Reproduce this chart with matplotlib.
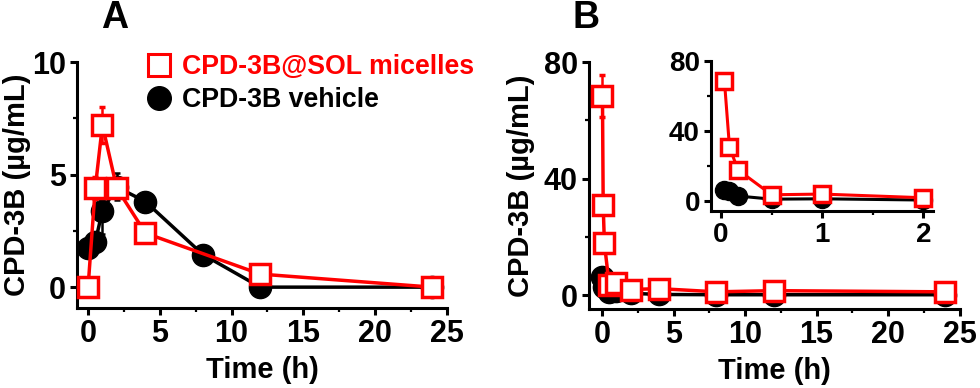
import numpy as np
import matplotlib.pyplot as plt
from matplotlib.ticker import MultipleLocator
from matplotlib.lines import Line2D

plt.rcParams['font.family'] = ['Liberation Sans', 'DejaVu Sans']
plt.rcParams['font.weight'] = 'bold'

RED = '#ff0000'
BLACK = '#000000'

# Panel A (oral)
t_a_mic = [0, 0.5, 1, 2, 4, 12, 24]
mic_a = [0.0, 4.4, 7.2, 4.4, 2.4, 0.58, 0.0]
mic_a_err = [0.05, 0.5, 0.8, 0.3, 0.2, 0.25, 0.15]
t_a_veh = [0, 0.5, 1, 2, 4, 8, 12, 24]
veh_a = [1.75, 2.0, 3.4, 4.45, 3.8, 1.45, 0.0, 0.0]
veh_a_err = [0.1, 0.4, 1.05, 0.6, 0.1, 0.1, 0.05, 0.05]

# Panel B (iv)
t_b = [0.033, 0.083, 0.167, 0.5, 1, 2, 4, 8, 12, 24]
mic_b = [68.5, 30.8, 17.8, 3.6, 4.0, 1.9, 2.2, 1.1, 1.5, 1.1]
mic_b_err = [7.2, 1.5, 1.5, 1.0, 1.0, 1.2, 1.5, 1.5, 1.8, 1.6]
veh_b = [6.3, 5.8, 2.9, 1.1, 1.3, 0.6, 0.2, 0.1, 0.1, 0.1]
veh_b_err = [0.5, 0.5, 0.4, 0.3, 0.3, 0.2, 0.1, 0.1, 0.1, 0.1]


def style_axes(ax, xmaj, xmin, ymaj, ymin, fs=22):
    for s in ['top', 'right']:
        ax.spines[s].set_visible(False)
    for s in ['left', 'bottom']:
        ax.spines[s].set_linewidth(2.2)
    ax.xaxis.set_major_locator(MultipleLocator(xmaj))
    ax.xaxis.set_minor_locator(MultipleLocator(xmin))
    ax.yaxis.set_major_locator(MultipleLocator(ymaj))
    ax.yaxis.set_minor_locator(MultipleLocator(ymin))
    ax.tick_params(which='major', direction='out', length=5, width=2.2, labelsize=fs, pad=3)
    ax.tick_params(which='minor', direction='out', length=3, width=1.6)
    for lab in ax.get_xticklabels() + ax.get_yticklabels():
        lab.set_fontweight('bold')


def draw(ax, tv, v, ve, tm, m, me, ms_sq, ms_c, lw=2.5):
    ax.errorbar(tv, v, yerr=ve, color=BLACK, lw=lw, marker='o', ms=ms_c,
                mfc=BLACK, mec=BLACK, capsize=2.5, elinewidth=1.8, capthick=1.8,
                zorder=3, clip_on=False)
    ax.errorbar(tm, m, yerr=me, color=RED, lw=lw, marker='s', ms=ms_sq,
                mfc='white', mec=RED, mew=2.5, capsize=2.5, elinewidth=1.8, capthick=1.8,
                zorder=4, clip_on=False)


fig = plt.figure(figsize=(9.8, 3.88), dpi=100)

axA = fig.add_axes([0.0786, 0.206, 0.378, 0.634])
draw(axA, t_a_veh, veh_a, veh_a_err, t_a_mic, mic_a, mic_a_err, 14, 16)
axA.set_xlim(-0.77, 25.05)
axA.set_ylim(-0.93, 10)
style_axes(axA, 5, 2.5, 5, 2.5)
axA.set_xlabel('Time (h)', fontsize=21, fontweight='bold', labelpad=5)
axA.set_ylabel('CPD-3B (µg/mL)', fontsize=21, fontweight='bold', labelpad=1)
handles = [Line2D([], [], ls='none', marker='s', ms=16, mfc='white', mec=RED, mew=2.2),
           Line2D([], [], ls='none', marker='o', ms=17, mfc=BLACK, mec=BLACK)]
leg = axA.legend(handles, ['CPD-3B@SOL micelles', 'CPD-3B vehicle'], loc='upper left',
                 bbox_to_anchor=(0.16, 1.075), frameon=False, fontsize=19.3,
                 handlelength=0.9, handletextpad=0.4, labelspacing=0.25, borderaxespad=0)
for txt, c in zip(leg.get_texts(), [RED, BLACK]):
    txt.set_color(c)
    txt.set_fontweight('bold')
fig.text(0.117, 0.953, 'A', fontsize=27, fontweight='bold', ha='center', va='center')

axB = fig.add_axes([0.601, 0.2036, 0.379, 0.636])
draw(axB, t_b, veh_b, veh_b_err, t_b, mic_b, mic_b_err, 14, 16)
axB.set_xlim(-0.91, 25.05)
axB.set_ylim(-4.8, 80)
style_axes(axB, 5, 2.5, 40, 20)
axB.set_xlabel('Time (h)', fontsize=21, fontweight='bold', labelpad=5)
axB.set_ylabel('CPD-3B (µg/mL)', fontsize=21, fontweight='bold', labelpad=6)
fig.text(0.598, 0.953, 'B', fontsize=27, fontweight='bold', ha='center', va='center')

axI = fig.add_axes([0.7255, 0.456, 0.227, 0.387])
draw(axI, t_b[:6], veh_b[:6], [0] * 6, t_b[:6], mic_b[:6], [e * 0.5 for e in mic_b_err[:6]],
     11, 13, lw=2.2)
axI.set_xlim(-0.1, 2.1)
axI.set_ylim(-5.7, 80)
style_axes(axI, 1, 0.5, 40, 20, fs=20)

fig.savefig('out.png', dpi=100)
